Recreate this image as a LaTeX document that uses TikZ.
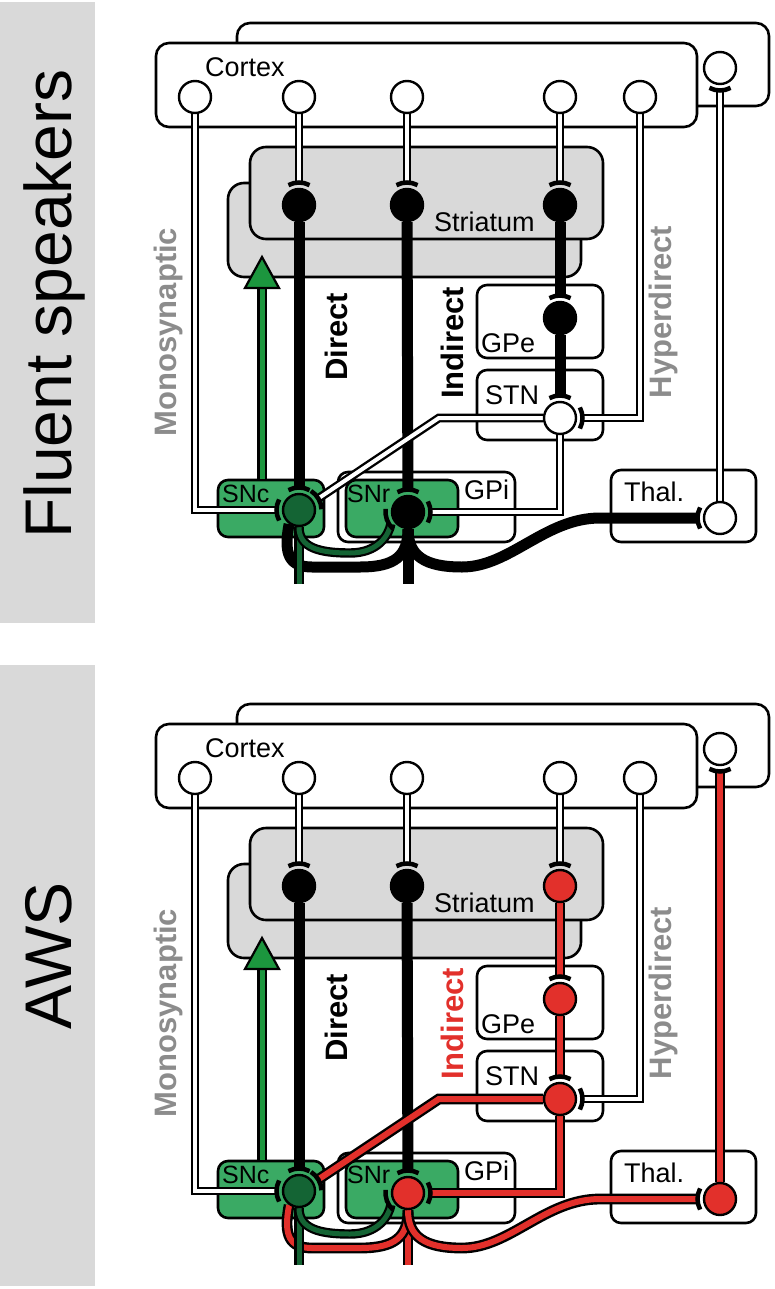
\documentclass[tikz,border=0pt]{standalone}
\usepackage{fontspec}
\setmainfont{Liberation Sans}
\usetikzlibrary{calc}
\pgfdeclarelayer{boxes}
\pgfdeclarelayer{axons}
\pgfsetlayers{boxes,axons,main}

\definecolor{labgray}{RGB}{217,217,217}
\definecolor{pathgray}{RGB}{140,140,140}
\definecolor{boxgreen}{RGB}{58,170,100}
\definecolor{cellgreen}{RGB}{20,100,52}
\definecolor{dopagreen}{RGB}{28,150,62}
\definecolor{awsred}{RGB}{226,48,43}

% synaptic terminal: node, angle
\newcommand{\synend}[2]{%
\draw[synout] ([shift={({#2-28}:22.5)}]#1.center) arc[start angle={#2-28}, end angle={#2+28}, radius=22.5];
}

% one basal ganglia circuit, #1 = prefix of node names
\newcommand{\bgcircuit}[1]{%
\begin{pgfonlayer}{boxes}
\node[region, minimum width=532pt, minimum height=83pt] (#1ctxb) at (503,-64.5) {};
\node[region, minimum width=541pt, minimum height=84pt] (#1ctxf) at (426.5,-85) {};
\node[reglabel] (#1ctxl) at (205,-67) {Cortex};
\node[region, fill=labgray, rounded corners=16pt, minimum width=353pt, minimum height=94pt] (#1strb) at (404.5,-230) {};
\node[region, fill=labgray, rounded corners=16pt, minimum width=353pt, minimum height=92pt] (#1strf) at (426.5,-193) {};
\node[reglabel] (#1strl) at (434,-222) {Striatum};
\node[nucleus, minimum width=126pt, minimum height=73pt] (#1gpeb) at (540,-321.5) {};
\node[nucleus, minimum width=126pt, minimum height=70pt] (#1stnb) at (540,-405) {};
\node[nucleus, minimum width=177pt, minimum height=70pt] (#1gpib) at (426.5,-507) {};
\node[nucleus, fill=boxgreen, minimum width=112pt, minimum height=57pt] (#1snrb) at (402,-508.5) {};
\node[nucleus, fill=boxgreen, minimum width=106pt, minimum height=57pt] (#1sncb) at (271,-508.5) {};
\node[nucleus, minimum width=145pt, minimum height=72pt] (#1thalb) at (683.5,-506) {};
\node[reglabel] (#1gpel) at (481,-343) {GPe};
\node[reglabel] (#1stnl) at (485,-395) {STN};
\node[reglabel, font=\fontsize{25}{28}\selectfont] (#1sncl) at (222,-494) {SNc};
\node[reglabel, font=\fontsize{25}{28}\selectfont] (#1snrl) at (347,-494) {SNr};
\node[reglabel] (#1gpil) at (464,-490) {GPi};
\node[reglabel] (#1thall) at (624,-492) {Thal.};
\end{pgfonlayer}
\node[pathlabel] (#1dirl) at (336,-337) {Direct};
\node[pathlabel, indtext] (#1indl) at (452,-343) {Indirect};
\node[pathlabel, pathgray] (#1hypl) at (663,-312) {Hyperdirect};
\node[pathlabel, pathgray] (#1monl) at (168,-332) {Monosynaptic};
% neurons
\node[cell] (#1c1) at (195,-97) {};
\node[cell] (#1c2) at (299,-97) {};
\node[cell] (#1c3) at (407,-97) {};
\node[cell] (#1c4) at (560,-97) {};
\node[cell] (#1c5) at (640,-97) {};
\node[cell] (#1c6) at (720,-68) {};
\node[cell, fill=black] (#1s1) at (299,-205) {};
\node[cell, fill=black] (#1s2) at (407,-205) {};
\node[cell, indcell] (#1s3) at (560,-205) {};
\node[cell, indcell] (#1gpe) at (560,-318) {};
\node[cell, stncell] (#1stn) at (560,-418) {};
\node[cell, fill=cellgreen] (#1snc) at (299,-510) {};
\node[cell, snrcell] (#1snr) at (408,-512) {};
\node[cell, thalcell] (#1thal) at (720,-518) {};
\coordinate (#1dopa) at (262,-257);
\begin{pgfonlayer}{axons}
\draw[whiteax, shorten >=6pt] (#1c1.south) |- (#1snc.west);
\draw[whiteax, shorten >=6pt] (#1c5.south) |- (#1stn.east);
\draw[whiteax, shorten >=6pt] (#1c2) -- (#1s1);
\draw[whiteax, shorten >=6pt] (#1c3) -- (#1s2);
\draw[whiteax, shorten >=6pt] (#1c4) -- (#1s3);
\draw[thalax, shorten >=6pt] (#1thal) -- (#1c6);
\draw[blackax, shorten >=6pt] (#1s1) -- (#1snc);
\draw[blackax, shorten >=6pt] (#1s2) -- (#1snr);
\draw[indax, shorten >=6pt] (#1s3) -- (#1gpe);
\draw[indax, shorten >=6pt] (#1gpe) -- (#1stn);
\draw[snrax] (#1snr.south) -- ++(0,-55);
\draw[snrax] (#1snr.south) .. controls (408,-556) and (395,-567) .. (360,-567) -- (312,-567) .. controls (290,-567) and (283,-555) .. (#1snc.-125);
\draw[snrax, shorten >=6pt] (#1snr.south) .. controls (408,-556) and (425,-567) .. (462,-567) .. controls (510,-567) and (545,-518) .. (600,-518) -- (#1thal.west);
\draw[stnax, shorten >=6pt] (#1stn.west) -- ++(-104,0) -- (#1snc.30);
\draw[stnax, shorten >=6pt] (#1stn.south) |- (#1snr.east);
\draw[greenax] (#1snc.south) -- ++(0,-57);
\draw[greenax, shorten >=6pt] (#1snc.south) .. controls (299,-548) and (320,-553) .. (350,-553) .. controls (378,-553) and (389,-535) .. (#1snr.200);
\draw[dopaax] ([xshift=-9pt]#1sncb.north) -- ([yshift=-29pt]#1dopa);
\draw[dopahead] (#1dopa) -- ++(17,-31) -- ++(-34,0) -- cycle;
\synend{#1snc}{180}
\synend{#1stn}{0}
\synend{#1s1}{90}
\synend{#1s2}{90}
\synend{#1s3}{90}
\synend{#1c6}{270}
\synend{#1snc}{90}
\synend{#1snr}{90}
\synend{#1gpe}{90}
\synend{#1stn}{90}
\synend{#1snc}{30}
\synend{#1snr}{0}
\synend{#1thal}{180}
\synend{#1snr}{200}
\end{pgfonlayer}
}

\begin{document}
\begin{tikzpicture}[x=1pt, y=1pt]
\tikzstyle{region} = [rectangle, draw=black, line width=2.6pt, fill=white, rounded corners=13pt, inner sep=0pt]
\tikzstyle{nucleus} = [rectangle, draw=black, line width=2.6pt, fill=white, rounded corners=10pt, inner sep=0pt]
\tikzstyle{reglabel} = [anchor=west, inner sep=0pt, font=\fontsize{27}{30}\selectfont]
\tikzstyle{pathlabel} = [rotate=90, inner sep=0pt, font=\fontsize{31}{34}\selectfont\bfseries]
\tikzstyle{labbox} = [rectangle, fill=labgray, inner sep=0pt, minimum width=95pt, minimum height=621pt]
\tikzstyle{sidelabel} = [rotate=90, anchor=base, inner sep=0pt, font=\fontsize{66}{70}\selectfont]
\tikzstyle{cell} = [circle, draw=black, line width=2.4pt, fill=white, minimum size=32pt, inner sep=0pt]
\tikzstyle{whiteax} = [draw=black, line width=2.4pt, double=white, double distance=4pt]
\tikzstyle{blackax} = [draw=black, line width=11pt]
\tikzstyle{redax} = [draw=black, line width=2.4pt, double=awsred, double distance=6pt]
\tikzstyle{greenax} = [draw=black, line width=2.2pt, double=cellgreen, double distance=5pt]
\tikzstyle{dopaax} = [draw=black, line width=2.2pt, double=dopagreen, double distance=5pt]
\tikzstyle{dopahead} = [draw=black, line width=2.2pt, fill=dopagreen, line join=miter]
\tikzstyle{synout} = [draw=black, line width=4.5pt]

\useasboundingbox (0,0) rectangle (774,-1289);

\node[labbox] (fluentbox) at (47.5,-312.5) {};
\node[sidelabel] (fluentl) at (71,-304) {Fluent speakers};
\node[labbox] (awsbox) at (47.5,-975.5) {};
\node[sidelabel] (awsl) at (71,-956) {AWS};

% fluent speakers
\begin{scope}[indax/.style={blackax}, stnax/.style={whiteax}, snrax/.style={blackax}, thalax/.style={whiteax},
  indcell/.style={fill=black}, stncell/.style={fill=white}, snrcell/.style={fill=black}, thalcell/.style={fill=white},
  indtext/.style={text=black}]
\bgcircuit{f}
\end{scope}

% AWS
\begin{scope}[shift={(0,-681)}, indax/.style={redax}, stnax/.style={redax}, snrax/.style={redax}, thalax/.style={redax},
  indcell/.style={fill=awsred}, stncell/.style={fill=awsred}, snrcell/.style={fill=awsred}, thalcell/.style={fill=awsred},
  indtext/.style={text=awsred}]
\bgcircuit{a}
\end{scope}
\end{tikzpicture}
\end{document}
